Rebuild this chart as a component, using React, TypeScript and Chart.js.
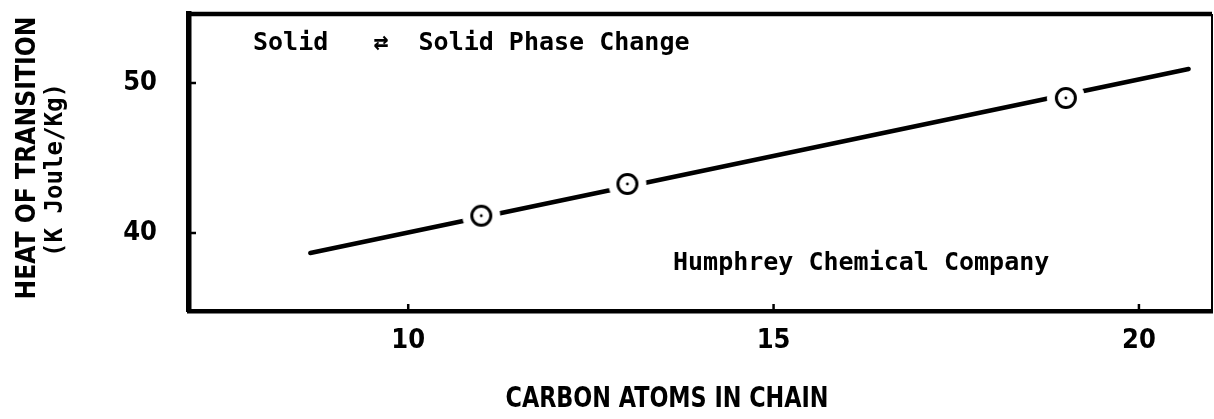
import React, { useEffect, useRef } from "react";
import { Chart, registerables } from "chart.js";

Chart.register(...registerables);

// ---- data ----
const carbonAtoms = [11, 13, 19];
const heatOfTransition = [41.15, 43.27, 49.0];
const fitLineX = [8.66, 20.68];
const fitLineY = [38.67, 50.93];
const xTicks = [10, 15, 20];
const yTicks = [40, 50];
const xTitle = "CARBON ATOMS IN CHAIN";
const yTitle = ["HEAT OF TRANSITION", "(K Joule/Kg)"];
const noteTop = "Solid   \u21C4  Solid Phase Change";
const noteBottom = "Humphrey Chemical Company";

const LABEL_FONT = '"Liberation Sans Narrow", "DejaVu Sans Condensed", "DejaVu Sans", sans-serif';
const MONO_FONT = '"DejaVu Sans Mono", "Liberation Mono", monospace';

function fitText(ctx: CanvasRenderingContext2D, text: string, x: number, y: number, width: number, rotate: boolean) {
  const w = ctx.measureText(text).width;
  const k = w > 0 ? width / w : 1;
  ctx.save();
  ctx.translate(x, y);
  if (rotate) ctx.rotate(-Math.PI / 2);
  ctx.scale(k, 1);
  ctx.textAlign = "center";
  ctx.fillText(text, 0, 0);
  ctx.restore();
}

// marker symbol: open circle with a centre dot, on a white halo that breaks the fit line
function makeMarker(): HTMLCanvasElement {
  const size = 42;
  const c = document.createElement("canvas");
  c.width = size;
  c.height = size;
  const g = c.getContext("2d")!;
  const m = size / 2;
  g.fillStyle = "#fff";
  g.beginPath();
  g.arc(m, m, 19, 0, Math.PI * 2);
  g.fill();
  g.strokeStyle = "#000";
  g.lineWidth = 3;
  g.beginPath();
  g.arc(m, m, 9.5, 0, Math.PI * 2);
  g.stroke();
  g.fillStyle = "#000";
  g.beginPath();
  g.arc(m, m, 1.4, 0, Math.PI * 2);
  g.fill();
  return c;
}

const decorPlugin = {
  id: "decor",
  afterDatasetsDraw(chart: any) {
    const { ctx, chartArea } = chart;
    const xs = chart.scales.x;
    const ys = chart.scales.y;
    ctx.save();
    ctx.strokeStyle = "#000";
    ctx.fillStyle = "#000";
    ctx.lineCap = "butt";
    // top and right frame
    ctx.lineWidth = 4.5;
    ctx.beginPath();
    ctx.moveTo(chartArea.left - 2, chartArea.top);
    ctx.lineTo(chartArea.right, chartArea.top);
    ctx.stroke();
    ctx.lineWidth = 2;
    ctx.beginPath();
    ctx.moveTo(chartArea.right, chartArea.top);
    ctx.lineTo(chartArea.right, chartArea.bottom);
    ctx.stroke();
    // inward tick marks
    ctx.lineWidth = 2.5;
    xTicks.forEach((v) => {
      const px = xs.getPixelForValue(v);
      ctx.beginPath();
      ctx.moveTo(px, chartArea.bottom);
      ctx.lineTo(px, chartArea.bottom - 7);
      ctx.stroke();
    });
    yTicks.forEach((v) => {
      const py = ys.getPixelForValue(v);
      ctx.beginPath();
      ctx.moveTo(chartArea.left, py);
      ctx.lineTo(chartArea.left + 7, py);
      ctx.stroke();
    });
    // annotations inside the plot
    ctx.textBaseline = "alphabetic";
    ctx.textAlign = "left";
    ctx.font = `bold 25px ${MONO_FONT}`;
    ctx.fillText(noteTop, chartArea.left + 64, chartArea.top + 36);
    ctx.fillText(noteBottom, chartArea.left + 484, chartArea.top + 256);
    // x axis title
    ctx.font = `bold 28px ${LABEL_FONT}`;
    fitText(ctx, xTitle, 667, 407, 323, false);
    // y axis title (rotated)
    ctx.font = `bold 26px ${LABEL_FONT}`;
    fitText(ctx, yTitle[0], 35, 158, 283, true);
    ctx.font = `bold 24px ${MONO_FONT}`;
    fitText(ctx, yTitle[1], 62, 170, 174, true);
    ctx.restore();
  },
};

export default function App() {
  const ref = useRef<HTMLCanvasElement | null>(null);

  useEffect(() => {
    if (!ref.current) return;
    const marker = makeMarker();
    const chart = new Chart(ref.current, {
      type: "scatter",
      data: {
        datasets: [
          {
            label: "measured",
            data: carbonAtoms.map((x, i) => ({ x, y: heatOfTransition[i] })),
            pointStyle: marker,
            pointRadius: 10,
            backgroundColor: "#fff",
            borderColor: "#000",
            order: 0,
            clip: false,
          } as any,
          {
            label: "fit",
            data: fitLineX.map((x, i) => ({ x, y: fitLineY[i] })),
            showLine: true,
            borderColor: "#000",
            backgroundColor: "#000",
            borderWidth: 4.5,
            borderCapStyle: "round",
            pointRadius: 0,
            order: 1,
          } as any,
        ],
      },
      options: {
        animation: false,
        responsive: false,
        devicePixelRatio: 1,
        events: [],
        layout: { autoPadding: false, padding: { left: 0, top: 14, right: 2, bottom: 0 } },
        plugins: { legend: { display: false }, tooltip: { enabled: false } },
        scales: {
          x: {
            type: "linear",
            min: 7,
            max: 21,
            afterBuildTicks: (s: any) => {
              s.ticks = xTicks.map((v) => ({ value: v }));
            },
            afterFit: (s: any) => {
              s.height = 108;
              s.paddingLeft = 0;
              s.paddingRight = 0;
            },
            grid: { drawOnChartArea: false, drawTicks: false },
            border: { display: true, width: 4.5, color: "#000" },
            ticks: {
              color: "#000",
              padding: 14,
              maxRotation: 0,
              autoSkip: false,
              font: { family: LABEL_FONT, size: 27, weight: "bold" },
            },
          },
          y: {
            type: "linear",
            min: 34.8,
            max: 54.6,
            afterBuildTicks: (s: any) => {
              s.ticks = yTicks.map((v) => ({ value: v }));
            },
            afterFit: (s: any) => {
              s.width = 189;
              s.paddingTop = 0;
              s.paddingBottom = 0;
            },
            grid: { drawOnChartArea: false, drawTicks: false },
            border: { display: true, width: 5.5, color: "#000" },
            ticks: {
              color: "#000",
              padding: 32,
              autoSkip: false,
              font: { family: LABEL_FONT, size: 27, weight: "bold" },
            },
          },
        },
      },
      plugins: [decorPlugin],
    } as any);
    return () => chart.destroy();
  }, []);

  return (
    <div style={{ position: "fixed", left: 0, top: 0, width: 1214, height: 419, background: "#fff" }}>
      <canvas ref={ref} width={1214} height={419} style={{ display: "block", width: 1214, height: 419 }} />
    </div>
  );
}
